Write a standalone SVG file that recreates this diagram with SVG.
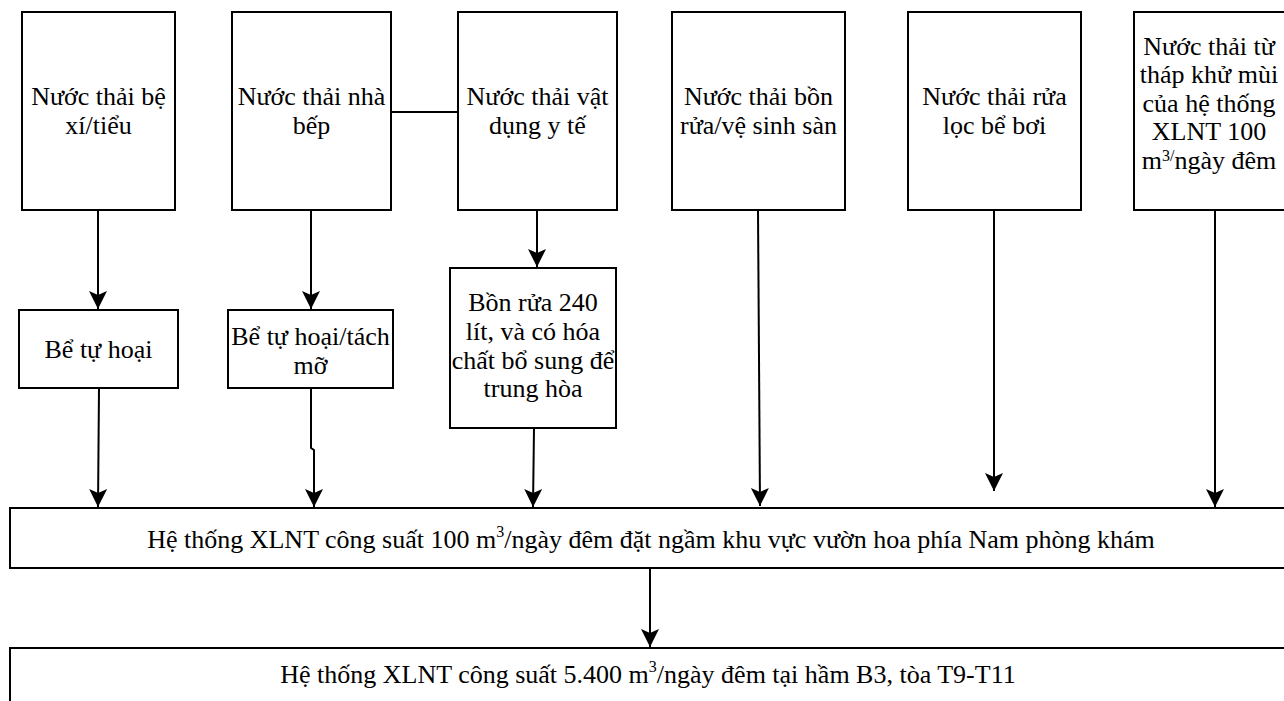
<svg xmlns="http://www.w3.org/2000/svg" width="1284" height="701" viewBox="0 0 1284 701">
  <style>
    .box { fill: #ffffff; stroke: #000000; stroke-width: 2; }
    .lbl { font-family: 'Liberation Serif', 'DejaVu Serif', serif; font-size: 26px; fill: #000000; text-anchor: middle; }
    .sup { font-size: 16px; }
    .edge { fill: none; stroke: #000000; stroke-width: 2; }
  </style>
  <defs>
    <marker id="head" markerUnits="userSpaceOnUse" markerWidth="20" markerHeight="20" viewBox="-19 -10 20 20" refX="0" refY="0" orient="auto">
      <path d="M-18,-9 L-14,0 L-18,9 L0,0 Z" fill="#000000"/>
    </marker>
  </defs>

  <!-- source nodes -->
  <g id="n-be-xi">
    <rect class="box" x="22" y="12" width="153" height="198"/>
    <text class="lbl" x="98.5" y="105">Nước thải bệ</text>
    <text class="lbl" x="98.5" y="134">xí/tiểu</text>
  </g>
  <g id="n-nha-bep">
    <rect class="box" x="232" y="12" width="159" height="198"/>
    <text class="lbl" x="311.5" y="105">Nước thải nhà</text>
    <text class="lbl" x="311.5" y="134">bếp</text>
  </g>
  <g id="n-vat-dung">
    <rect class="box" x="458" y="12" width="159" height="198"/>
    <text class="lbl" x="537.5" y="105">Nước thải vật</text>
    <text class="lbl" x="537.5" y="134">dụng y tế</text>
  </g>
  <g id="n-bon-rua">
    <rect class="box" x="672" y="12" width="173" height="198"/>
    <text class="lbl" x="758.5" y="105">Nước thải bồn</text>
    <text class="lbl" x="758.5" y="134">rửa/vệ sinh sàn</text>
  </g>
  <g id="n-be-boi">
    <rect class="box" x="908" y="12" width="173" height="198"/>
    <text class="lbl" x="994.5" y="105">Nước thải rửa</text>
    <text class="lbl" x="994.5" y="134">lọc bể bơi</text>
  </g>
  <g id="n-thap-khu-mui">
    <rect class="box" x="1134" y="12" width="152" height="198"/>
    <text class="lbl" x="1209" y="55">Nước thải từ</text>
    <text class="lbl" x="1209" y="83">tháp khử mùi</text>
    <text class="lbl" x="1209" y="111.5">của hệ thống</text>
    <text class="lbl" x="1209" y="140">XLNT 100</text>
    <text class="lbl" x="1209" y="169">m<tspan class="sup" dy="-8">3/</tspan><tspan dy="8">ngày đêm</tspan></text>
  </g>

  <!-- pre-treatment nodes -->
  <g id="n-be-tu-hoai">
    <rect class="box" x="19" y="310" width="159" height="78"/>
    <text class="lbl" x="98.5" y="358">Bể tự hoại</text>
  </g>
  <g id="n-tach-mo">
    <rect class="box" x="228" y="310" width="165" height="78"/>
    <text class="lbl" x="310.5" y="345">Bể tự hoại/tách</text>
    <text class="lbl" x="310.5" y="374">mỡ</text>
  </g>
  <g id="n-bon-240">
    <rect class="box" x="450" y="268" width="166" height="160"/>
    <text class="lbl" x="533" y="311">Bồn rửa 240</text>
    <text class="lbl" x="533" y="340">lít, và có hóa</text>
    <text class="lbl" x="533" y="369">chất bổ sung để</text>
    <text class="lbl" x="533" y="397">trung hòa</text>
  </g>

  <!-- treatment systems -->
  <g id="n-xlnt-100">
    <rect class="box" x="10" y="508" width="1290" height="60"/>
    <text class="lbl" x="651" y="548">Hệ thống XLNT công suất 100 m<tspan class="sup" dy="-11">3</tspan><tspan dy="11">/ngày đêm đặt ngầm khu vực vườn hoa phía Nam phòng khám</tspan></text>
  </g>
  <g id="n-xlnt-5400">
    <rect class="box" x="10" y="648" width="1290" height="70"/>
    <text class="lbl" x="648" y="683">Hệ thống XLNT công suất 5.400 m<tspan class="sup" dy="-11">3</tspan><tspan dy="11">/ngày đêm tại hầm B3, tòa T9-T11</tspan></text>
  </g>

  <!-- connectors -->
  <g id="connectors">
    <path class="edge" d="M391,112 L458,112"/>
    <path class="edge" d="M98,210 L98,309" marker-end="url(#head)"/>
    <path class="edge" d="M311,210 L311,309" marker-end="url(#head)"/>
    <path class="edge" d="M537,210 L537,267" marker-end="url(#head)"/>
    <path class="edge" d="M99,388 L98,507" marker-end="url(#head)"/>
    <path class="edge" d="M311,388 L311,448 L314,450 L314,507" marker-end="url(#head)"/>
    <path class="edge" d="M534,428 L533,507" marker-end="url(#head)"/>
    <path class="edge" d="M758,210 L760,506" marker-end="url(#head)"/>
    <path class="edge" d="M994,210 L994,491" marker-end="url(#head)"/>
    <path class="edge" d="M1215,210 L1215,507" marker-end="url(#head)"/>
    <path class="edge" d="M650,568 L650,647" marker-end="url(#head)"/>
  </g>
</svg>
